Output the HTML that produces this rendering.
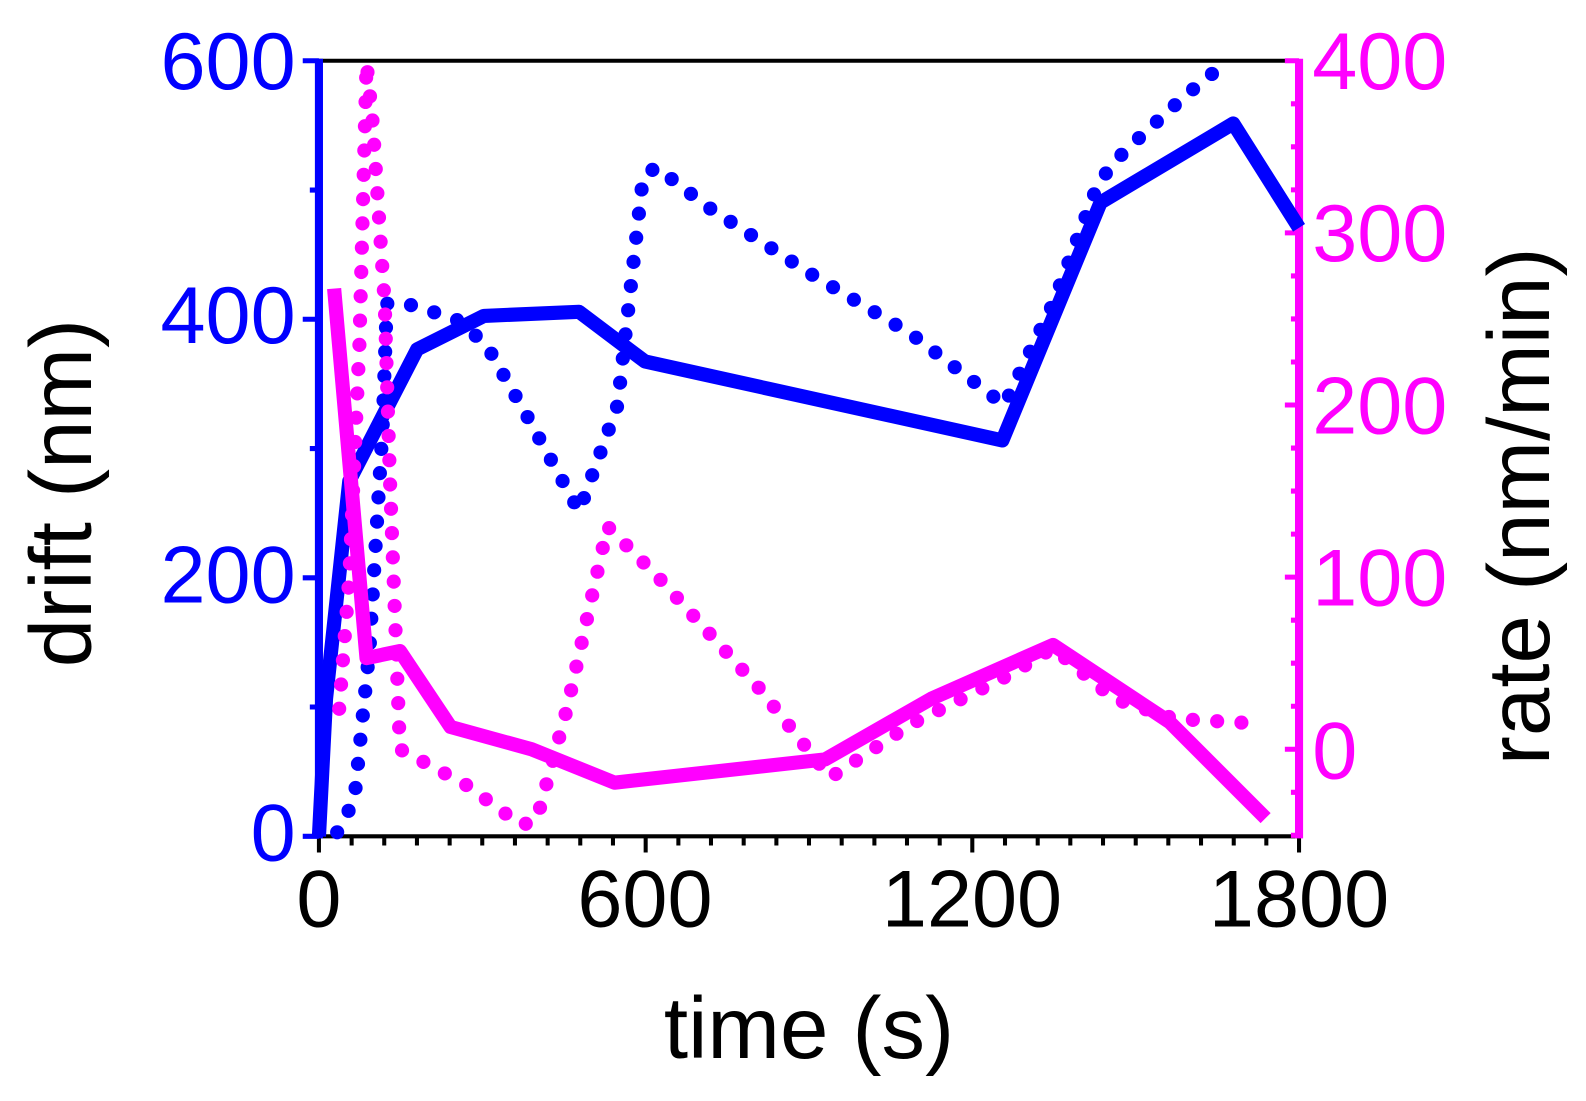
<!DOCTYPE html>
<html><head><meta charset="utf-8"><style>
html,body{margin:0;padding:0;background:#fff;}
svg{display:block;}
text{font-family:"Liberation Sans",sans-serif;}
</style></head><body>
<svg width="1586" height="1101" viewBox="0 0 1586 1101" xmlns="http://www.w3.org/2000/svg">
<rect width="1586" height="1101" fill="#fff"/>
<g transform="scale(1.0125)">
<line x1="315" y1="60" x2="1283" y2="60" stroke="#000" stroke-width="4"/>
<line x1="315" y1="826" x2="1283" y2="826" stroke="#000" stroke-width="4"/>
<g stroke="#000" stroke-width="4">
<path d="M315 826v16M637.7 826v16M960.3 826v16M1283 826v16"/>
<path d="M347.3 826v9M379.5 826v9M411.8 826v9M444.1 826v9M476.3 826v9M508.6 826v9M540.9 826v9M573.1 826v9M605.4 826v9M670 826v9M702.2 826v9M734.5 826v9M766.8 826v9M799 826v9M831.3 826v9M863.6 826v9M895.8 826v9M928.1 826v9M992.6 826v9M1024.9 826v9M1057.1 826v9M1089.4 826v9M1121.7 826v9M1153.9 826v9M1186.2 826v9M1218.5 826v9M1250.7 826v9"/>
</g>
<line x1="315" y1="58" x2="315" y2="828" stroke="#0000ff" stroke-width="8"/>
<g stroke="#0000ff" stroke-width="5">
<path d="M315 826h-16M315 570.7h-16M315 315.3h-16M315 60h-16"/>
<path d="M315 698.3h-9M315 443h-9M315 187.7h-9"/>
</g>
<line x1="1283" y1="58" x2="1283" y2="828" stroke="#ff00ff" stroke-width="8"/>
<g stroke="#ff00ff" stroke-width="5">
<path d="M1283 60h-14M1283 230h-14M1283 400h-14M1283 570h-14M1283 740h-14"/>
<path d="M1283 102.5h-8M1283 145h-8M1283 187.5h-8M1283 272.5h-8M1283 315h-8M1283 357.5h-8M1283 442.5h-8M1283 485h-8M1283 527.5h-8M1283 612.5h-8M1283 655h-8M1283 697.5h-8M1283 782.5h-8M1283 825h-8"/>
</g>
<g fill="none" stroke-linejoin="round">
<polyline stroke="#0000ff" stroke-width="14" points="315,826 322,690 345,475 412,345 478,312 572,308 637,357 990,435 1087,200 1218,122 1283,225"/>
<polyline stroke="#0000ff" stroke-width="14" stroke-linecap="round" stroke-dasharray="0 24" points="333,822 350,790 365,640 378,420 382,300 395,298 450,315 480,340 520,410 572,505 610,400 635,175 648,165 700,205 800,270 900,330 992,400 1040,300 1085,180 1110,150 1170,95 1213,60"/>
<polyline stroke="#ff00ff" stroke-width="14" points="330,285 362,650 395,643 445,718 525,740 607,773 815,750 920,690 1040,637 1155,713 1250,808"/>
<polyline stroke="#ff00ff" stroke-width="14" stroke-linecap="round" stroke-dasharray="0 24" points="335,700 345,570 355,340 362,62 368,120 380,300 385,470 395,740 460,775 515,815 530,810 560,700 600,520 650,570 750,680 820,768 900,715 1000,665 1040,640 1100,690 1160,710 1250,715"/>
</g>
<g fill="#0000ff" font-size="80" text-anchor="end">
<text x="292" y="850">0</text>
<text x="292" y="595">200</text>
<text x="292" y="339">400</text>
<text x="292" y="88">600</text>
</g>
<g fill="#ff00ff" font-size="80" text-anchor="start">
<text x="1296" y="88">400</text>
<text x="1296" y="258">300</text>
<text x="1296" y="428">200</text>
<text x="1296" y="598">100</text>
<text x="1296" y="769">0</text>
</g>
<g fill="#000" font-size="80" text-anchor="middle">
<text x="315" y="915">0</text>
<text x="637" y="915">600</text>
<text x="960" y="915">1200</text>
<text x="1283" y="915">1800</text>
</g>
<text x="799" y="1045" font-size="86" text-anchor="middle" fill="#000">time (s)</text>
<text transform="translate(90,487) rotate(-90)" font-size="86" text-anchor="middle" fill="#000">drift (nm)</text>
<text transform="translate(1530,500) rotate(-90)" font-size="86" text-anchor="middle" fill="#000">rate (nm/min)</text>
</g>
</svg>
</body></html>
